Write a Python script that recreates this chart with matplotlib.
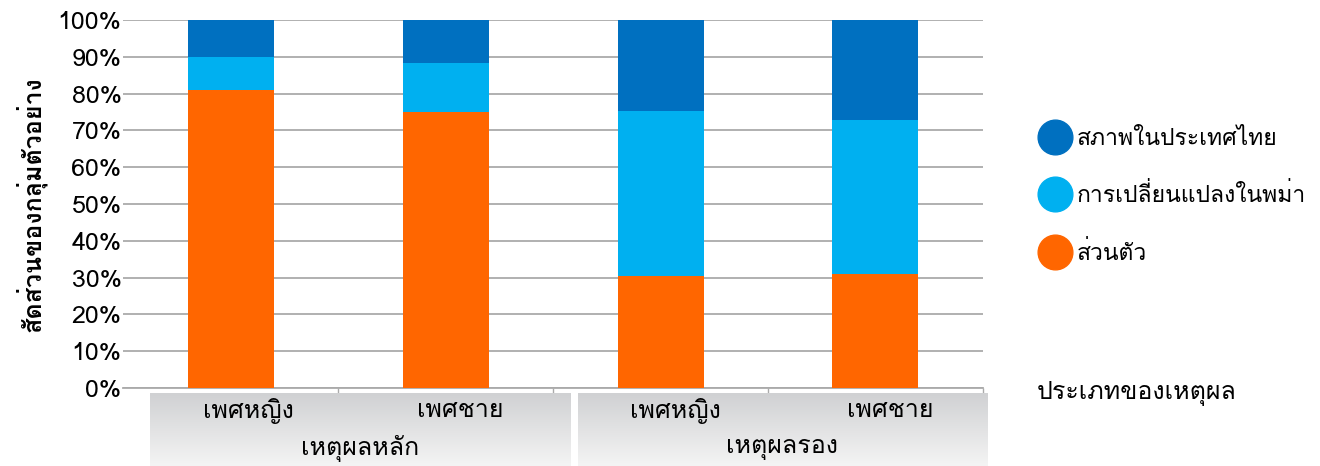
import numpy as np
import matplotlib
matplotlib.use("Agg")
import matplotlib.pyplot as plt
from matplotlib import font_manager
from matplotlib.lines import Line2D

# ข้อมูล (ร้อยละ)
categories = ["เพศหญิง", "เพศชาย", "เพศหญิง", "เพศชาย"]
groups = ["เหตุผลหลัก", "เหตุผลรอง"]
series_names = ["ส่วนตัว", "การเปลี่ยนแปลงในพม่า", "สภาพในประเทศไทย"]
personal = [81, 75, 30.4, 31]
burma = [9, 13.3, 44.9, 41.8]
thailand = [10, 11.7, 24.7, 27.2]
colors = ["#FF6600", "#00B0F0", "#0070C0"]


# หาฟอนต์ที่มีอักษรไทย
def thai_fonts():
    found = []
    for f in font_manager.fontManager.ttflist:
        try:
            cmap = font_manager.get_font(f.fname).get_charmap()
        except Exception:
            continue
        if ord("ก") in cmap and f.name not in found:
            found.append(f.name)
    return found


fams = thai_fonts()
plt.rcParams["font.family"] = fams + ["DejaVu Sans"]
FS = 18

fig = plt.figure(figsize=(13.2, 4.66), dpi=100)
W, H = 1320, 466
ax = fig.add_axes([123 / W, (H - 388) / H, (983 - 123) / W, (388 - 20) / H])

x = np.arange(len(categories))
bottom = np.zeros(len(categories))
for vals, c in zip([personal, burma, thailand], colors):
    ax.bar(x, vals, 0.4, bottom=bottom, color=c, zorder=3)
    bottom += np.array(vals)

ax.set_xlim(-0.5, 3.5)
ax.set_ylim(0, 100)
ax.set_yticks(range(0, 101, 10))
ax.set_yticklabels([f"{v}%" for v in range(0, 101, 10)], fontsize=FS)
ax.tick_params(axis="y", length=0, pad=1)
ax.grid(axis="y", color="#aaaaaa", lw=1.3, zorder=0)
for s in ["left", "right", "top"]:
    ax.spines[s].set_visible(False)
ax.spines["bottom"].set_color("#aaaaaa")
ax.spines["bottom"].set_linewidth(1.3)
ax.set_xticks([0.5, 1.5, 2.5, 3.5])
ax.set_xticklabels([])
ax.tick_params(axis="x", length=5, color="#aaaaaa", width=1)
ax.set_ylabel("สัดส่วนของกลุ่มตัวอย่าง", fontsize=FS, fontweight="bold", labelpad=8)

# กล่องหมวดหมู่แบบไล่สี
grad = np.linspace(0, 1, 100).reshape(-1, 1)
cmap = matplotlib.colors.LinearSegmentedColormap.from_list("g", ["#d0d1d3", "#f4f4f4"])
boxes = [(150, 571), (578, 987)]
label_px = [[248, 460], [675, 890]]
for (x0, x1), g, cats, lx in zip(boxes, groups, [categories[:2], categories[2:]], label_px):
    bx = fig.add_axes([x0 / W, 0, (x1 - x0) / W, (466 - 393) / H])
    bx.imshow(grad, aspect="auto", cmap=cmap, extent=[0, 1, 0, 1])
    bx.set_xlim(0, 1)
    bx.set_ylim(0, 1)
    bx.axis("off")
    bx.text(0.5, 0.24, g, ha="center", va="center", fontsize=FS)
    for px, lab in zip(lx, cats):
        bx.text((px - x0) / (x1 - x0), 0.76, lab, ha="center", va="center", fontsize=FS)

handles = [Line2D([], [], ls="none", marker="o", markersize=25, color=c) for c in colors[::-1]]
fig.legend(handles, series_names[::-1], loc="upper left", bbox_to_anchor=(1032 / W, 1 - 120 / H),
           frameon=False, fontsize=16.5, labelspacing=1.45, handletextpad=0.35,
           borderaxespad=0, handlelength=1.2)
fig.text(1037 / W, 1 - 393 / H, "ประเภทของเหตุผล", fontsize=FS, va="center")

fig.savefig("out.png", dpi=100)
